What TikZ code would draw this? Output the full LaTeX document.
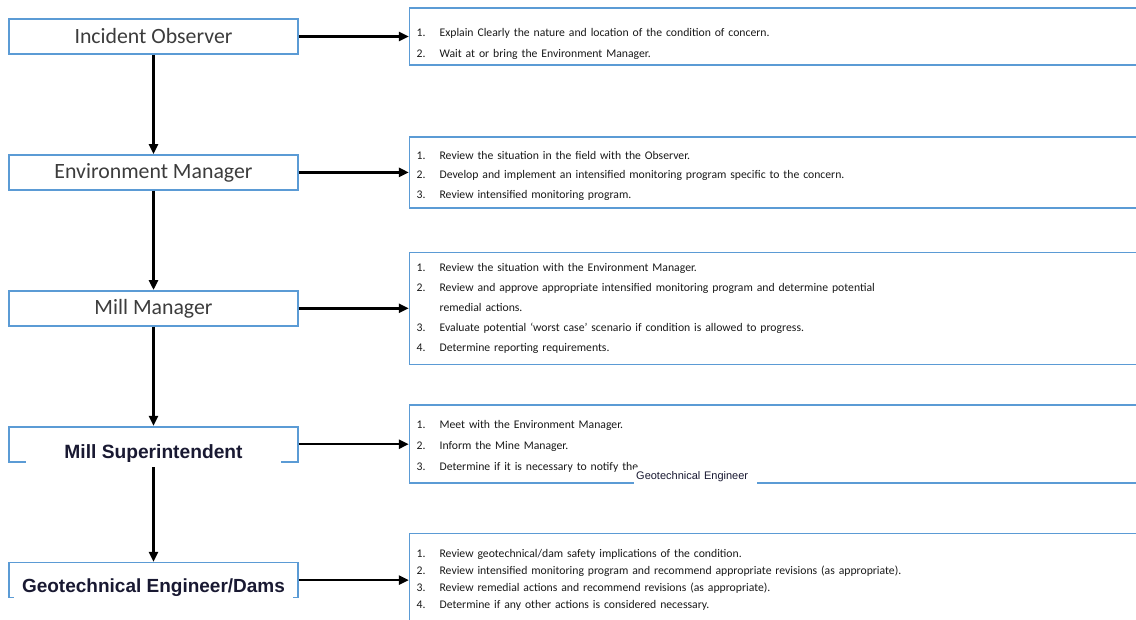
\documentclass[tikz,border=0pt]{standalone}
\usepackage{fontspec}
\setmainfont{Carlito}
\newfontfamily\arialfont{Liberation Sans}
\usetikzlibrary{arrows.meta,positioning}
\definecolor{boxblue}{RGB}{91,155,213}
\definecolor{labelgray}{RGB}{60,60,60}
\definecolor{overtext}{RGB}{25,25,50}
\newcommand{\itm}[1]{\makebox[23pt][l]{#1}}
\tikzset{
  rolebox/.style={draw=boxblue, line width=1.6pt, minimum width=289pt,
    minimum height=35pt, inner sep=0pt, text=labelgray,
    font=\fontsize{21.8}{24}\selectfont},
  taskbox/.style={draw=boxblue, line width=1.6pt, inner xsep=7pt,
    inner ysep=0pt, text width=720pt, align=left, text=black!90,
    font=\fontsize{11.7}{20}\selectfont},
  cover/.style={fill=white, inner sep=0pt, text=overtext},
  flow/.style={line width=2.5pt, -{Triangle[length=10pt,width=9pt]}},
}
\begin{document}
\begin{tikzpicture}[x=1pt,y=-1pt,node distance=99.3pt]
  \useasboundingbox (0,0) rectangle (1136,619);
  % roles
  \node[rolebox] (obs) at (153.5,36.5) {Incident Observer};
  \node[rolebox, below=of obs] (env) {Environment Manager};
  \node[rolebox, below=of env] (mill) {Mill Manager};
  \node[rolebox, below=of mill] (sup) {};
  \node[rolebox, below=of sup] (geo) {};
  % tasks
  \node[taskbox, right=110pt of obs, minimum height=57pt,
    font=\fontsize{11.7}{21}\selectfont] (t1) {%
    \rule{0pt}{23pt}\itm{1.}Explain Clearly the nature and location of the condition of concern.\\
    \itm{2.}Wait at or bring the Environment Manager.};
  \node[taskbox, right=110pt of env, minimum height=71pt,
    font=\fontsize{11.7}{19.5}\selectfont] (t2) {%
    \rule{0pt}{15pt}\itm{1.}Review the situation in the field with the Observer.\\
    \itm{2.}Develop and implement an intensified monitoring program specific to the concern.\\
    \itm{3.}Review intensified monitoring program.};
  \node[taskbox, right=110pt of mill, minimum height=112pt] (t3) {%
    \itm{1.}Review the situation with the Environment Manager.\\
    \itm{2.}Review and approve appropriate intensified monitoring program and determine potential\\
    \itm{}remedial actions.\\
    \itm{3.}Evaluate potential `worst case' scenario if condition is allowed to progress.\\
    \itm{4.}Determine reporting requirements.};
  \node[taskbox, right=110pt of sup, minimum height=78pt,
    font=\fontsize{11.7}{21}\selectfont] (t4) {%
    \rule{0pt}{13pt}\itm{1.}Meet with the Environment Manager.\\
    \itm{2.}Inform the Mine Manager.\\
    \itm{3.}Determine if it is necessary to notify the};
  \node[taskbox, right=110pt of geo, minimum height=93pt,
    font=\fontsize{11.7}{17}\selectfont] (t5) {%
    \itm{1.}Review geotechnical/dam safety implications of the condition.\\
    \itm{2.}Review intensified monitoring program and recommend appropriate revisions (as appropriate).\\
    \itm{3.}Review remedial actions and recommend revisions (as appropriate).\\
    \itm{4.}Determine if any other actions is considered necessary.};
  % arrows
  \foreach \a/\b in {obs/env,env/mill,mill/sup,sup/geo}
    \draw[flow] (\a) -- (\b);
  \foreach \a/\b in {obs/t1,env/t2,mill/t3,sup/t4,geo/t5}
    \draw[flow] (\a.east) -- (\a.east -| \b.west);
  % pasted labels
  \node[cover, minimum width=255pt, minimum height=27pt,
    font=\arialfont\bfseries\fontsize{19.2}{22}\selectfont]
    (suplabel) at ([yshift=-9.5pt]sup) {Mill Superintendent};
  \node[cover, minimum width=279pt, minimum height=25pt,
    font=\arialfont\bfseries\fontsize{19}{22}\selectfont]
    (geolabel) at ([yshift=-8pt]geo) {Geotechnical Engineer/Dams};
  \node[cover, anchor=west, minimum height=19pt, inner xsep=2pt,
    text width=119pt, align=left, font=\arialfont\fontsize{11}{13}\selectfont]
    (t4label) at (634,477) {Geotechnical Engineer};
\end{tikzpicture}
\end{document}
